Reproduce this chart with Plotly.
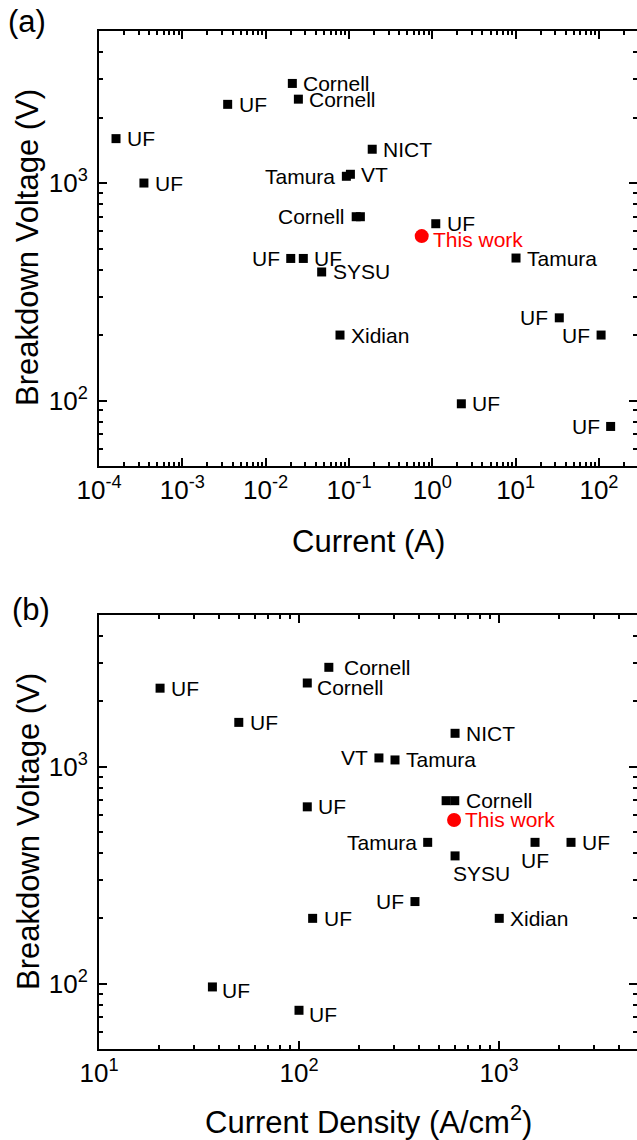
import math
import plotly.graph_objects as go

# ---------------- Data: panel (a) Breakdown voltage vs current ----------------
a_labels = ["UF", "UF", "UF", "Cornell", "Cornell", "NICT", "Tamura", "VT",
            "Cornell", "", "UF", "UF", "UF", "SYSU", "Xidian", "Tamura",
            "UF", "UF", "UF", "UF"]
a_current = [1.6e-4, 3.46e-4, 3.5e-3, 0.0209, 0.0247, 0.19, 0.093, 0.104,
             0.122, 0.137, 1.1, 0.020, 0.0283, 0.047, 0.078, 10.1,
             2.23, 33.4, 106, 138]
a_voltage = [1600, 1000, 2300, 2870, 2430, 1430, 1074, 1097,
             700, 700, 650, 450, 450, 390, 200, 452,
             96.6, 240, 200, 76]
a_side = ["r", "r", "r", "r", "r", "r", "l", "r",
          "l", "r", "r", "l", "r", "r", "r", "r",
          "r", "l", "l", "l"]

a_work_current = [0.746]
a_work_voltage = [570]

# ---------------- Data: panel (b) Breakdown voltage vs current density ----------------
b_labels = ["UF", "UF", "Cornell", "Cornell", "NICT", "VT", "Tamura",
            "", "Cornell", "Tamura", "SYSU", "UF", "UF", "UF", "UF",
            "Xidian", "UF", "UF", "UF"]
b_density = [20.2, 50, 110, 141, 603, 251, 302,
             544, 601, 440, 603, 1514, 2291, 380, 117,
             1003, 36.9, 100, 110]
b_voltage = [2300, 1600, 2430, 2870, 1425, 1097, 1074,
             697, 697, 448, 388, 448, 448, 239, 200,
             200, 96.6, 75.4, 653]
b_side = ["r", "r", "rd", "r2", "r", "l", "r",
          "r", "r", "l", "bl", "b", "r", "l", "r",
          "r", "rd", "rd", "r"]

b_work_density = [596]
b_work_voltage = [568]

# tick labels
a_xticks = [1e-4, 1e-3, 1e-2, 1e-1, 1e0, 1e1, 1e2]
a_xticktext = ["10<sup>-4</sup>", "10<sup>-3</sup>", "10<sup>-2</sup>", "10<sup>-1</sup>",
               "10<sup>0</sup>", "10<sup>1</sup>", "10<sup>2</sup>"]
b_xticks = [1e1, 1e2, 1e3]
b_xticktext = ["10<sup>1</sup>", "10<sup>2</sup>", "10<sup>3</sup>"]
yticks = [1e2, 1e3]
yticktext = ["10<sup>2</sup>", "10<sup>3</sup>"]

FONT = "Liberation Sans, Arial, sans-serif"
W, H = 637, 1140
ML, MR, MT, MB = 99, 0, 31, 91
PW = W - ML - MR
PH = H - MT - MB


def px_to_paper(px, py):
    return (px - ML) / PW, (H - MB - py) / PH


def minor_vals(e0, e1):
    return [m * 10 ** e for e in range(e0, e1) for m in range(2, 10)]


fig = go.Figure()

# panel (a)
fig.add_trace(go.Scatter(x=a_current, y=a_voltage, mode="markers",
                         marker=dict(symbol="square", size=9, color="black"),
                         xaxis="x", yaxis="y", showlegend=False))
fig.add_trace(go.Scatter(x=a_work_current, y=a_work_voltage, mode="markers",
                         marker=dict(symbol="circle", size=14, color="#FF0000"),
                         xaxis="x", yaxis="y", showlegend=False))
# panel (b)
fig.add_trace(go.Scatter(x=b_density, y=b_voltage, mode="markers",
                         marker=dict(symbol="square", size=9, color="black"),
                         xaxis="x2", yaxis="y2", showlegend=False))
fig.add_trace(go.Scatter(x=b_work_density, y=b_work_voltage, mode="markers",
                         marker=dict(symbol="circle", size=14, color="#FF0000"),
                         xaxis="x2", yaxis="y2", showlegend=False))

annotations = []

side_style = {
    "r": dict(xanchor="left", yanchor="middle", xshift=9, yshift=0),
    "r2": dict(xanchor="left", yanchor="middle", xshift=13, yshift=0),
    "rd": dict(xanchor="left", yanchor="middle", xshift=8, yshift=-4),
    "rw": dict(xanchor="left", yanchor="middle", xshift=9, yshift=-3),
    "l": dict(xanchor="right", yanchor="middle", xshift=-9, yshift=0),
    "b": dict(xanchor="center", yanchor="middle", xshift=0, yshift=-18),
    "bl": dict(xanchor="left", yanchor="middle", xshift=-4, yshift=-18),
}


def add_labels(xs, ys, labels, sides, xref, yref, color="black"):
    for x, y, t, s in zip(xs, ys, labels, sides):
        if not t:
            continue
        st = side_style[s]
        annotations.append(dict(x=x, y=y, xref=xref, yref=yref, text=t,
                                showarrow=False, font=dict(family=FONT, size=21, color=color),
                                xanchor=st["xanchor"], yanchor=st["yanchor"],
                                xshift=st["xshift"], yshift=st["yshift"]))


add_labels([math.log10(v) for v in a_current], [math.log10(v) for v in a_voltage],
           a_labels, a_side, "x", "y")
add_labels([math.log10(v) for v in a_work_current], [math.log10(v) for v in a_work_voltage],
           ["This work"], ["rw"], "x", "y", color="#FF0000")
add_labels([math.log10(v) for v in b_density], [math.log10(v) for v in b_voltage],
           b_labels, b_side, "x2", "y2")
add_labels([math.log10(v) for v in b_work_density], [math.log10(v) for v in b_work_voltage],
           ["This work"], ["r"], "x2", "y2", color="#FF0000")


# titles and panel labels
def text_at(px, py, text, angle=0, size=31):
    x, y = px_to_paper(px, py)
    annotations.append(dict(x=x, y=y, xref="paper", yref="paper", text=text,
                            showarrow=False, textangle=angle,
                            font=dict(family=FONT, size=size, color="black"),
                            xanchor="center", yanchor="middle"))


text_at(28, 248, "Breakdown Voltage (V)", angle=-90)
text_at(28, 832, "Breakdown Voltage (V)", angle=-90)
text_at(368, 541, "Current (A)")
text_at(368, 1120, "Current Density (A/cm<sup>2</sup>)")
text_at(27, 22, "(a)")
text_at(31, 609, "(b)")

top_a = px_to_paper(0, 31)[1]
bot_a = px_to_paper(0, 466)[1]
top_b = px_to_paper(0, 615)[1]

axis_common = dict(type="log", showgrid=False, zeroline=False, showline=True,
                   linecolor="black", linewidth=2, mirror="ticks",
                   ticks="inside", ticklen=8, tickwidth=2, tickcolor="black",
                   tickfont=dict(family=FONT, size=26, color="black"),
                   tickmode="array")

fig.update_layout(
    width=W, height=H,
    margin=dict(l=ML, r=MR, t=MT, b=MB, autoexpand=False),
    paper_bgcolor="white", plot_bgcolor="white",
    xaxis=dict(axis_common, domain=[0, 1], anchor="y",
               range=[-4, -4 + PW / 83.33],
               tickvals=a_xticks, ticktext=a_xticktext,
               minor=dict(tickmode="array", tickvals=minor_vals(-4, 3), ticks="inside",
                          ticklen=4, tickwidth=2, tickcolor="black", showgrid=False)),
    yaxis=dict(axis_common, domain=[bot_a, top_a], anchor="x",
               range=[math.log10(50), math.log10(5000)],
               tickvals=yticks, ticktext=yticktext, ticklabelstandoff=4,
               minor=dict(tickmode="array", tickvals=minor_vals(1, 4), ticks="inside",
                          ticklen=4, tickwidth=2, tickcolor="black", showgrid=False)),
    xaxis2=dict(axis_common, domain=[0, 1], anchor="y2",
                range=[1, 1 + PW / 200.0],
                tickvals=b_xticks, ticktext=b_xticktext,
                minor=dict(tickmode="array", tickvals=minor_vals(1, 4), ticks="inside",
                           ticklen=4, tickwidth=2, tickcolor="black", showgrid=False)),
    yaxis2=dict(axis_common, domain=[0, top_b], anchor="x2",
                range=[math.log10(50), math.log10(5000)],
                tickvals=yticks, ticktext=yticktext, ticklabelstandoff=4,
                minor=dict(tickmode="array", tickvals=minor_vals(1, 4), ticks="inside",
                           ticklen=4, tickwidth=2, tickcolor="black", showgrid=False)),
    annotations=annotations,
)

fig.write_html("out.html", config={"displayModeBar": False},
               post_script="document.body.style.margin='0px';document.body.style.overflow='hidden';")
